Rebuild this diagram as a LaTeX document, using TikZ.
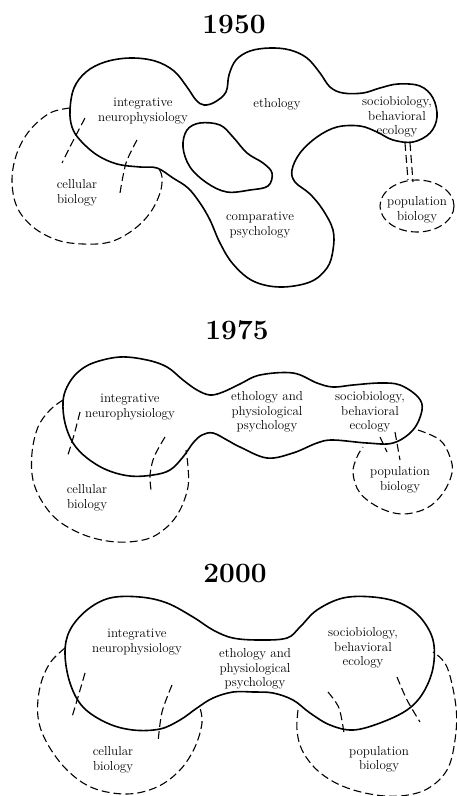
\documentclass[tikz,border=0pt]{standalone}
\begin{document}
\begin{tikzpicture}[x=1pt,y=-1pt,
  blob/.style={line width=1.6pt, line join=round},
  dsh/.style={line width=1.1pt, dash pattern=on 8pt off 4pt},
  lab/.style={font=\fontsize{13}{14.5}\selectfont, align=center, inner sep=0pt},
  ttl/.style={font=\fontsize{28}{30}\selectfont\bfseries, inner sep=0pt}]
\useasboundingbox (0,0) rectangle (456,796);

% ================= 1950 =================
\node[ttl] (t1950) at (234,24) {1950};
\draw[blob] plot[smooth cycle, tension=0.6] coordinates {
(70,110)(74,88)(86,72)(105,62)(130,58)(155,61)(174,71)(187,87)(196,100)(204,105)(215,102)(226,92)(229,75)(236,60)(250,51)(270,48)(290,50)(307,58)(320,73)(330,87)(343,93)(363,93)(380,88)(398,84)(420,86)(433,98)(437,117)(430,133)(413,142)(393,140)(377,132)(360,126)(337,127)(317,137)(300,153)(292,170)(295,182)(310,194)(323,210)(333,230)(333,250)(327,268)(310,282)(280,287)(253,281)(233,264)(220,243)(210,220)(200,203)(188,188)(173,178)(157,168)(140,167)(117,164)(97,155)(80,140)(72,127)};
\draw[blob] plot[smooth cycle, tension=0.6] coordinates {
(187,130)(200,123)(220,125)(233,137)(247,153)(263,163)(272,173)(268,186)(250,190)(227,192)(207,183)(190,167)(183,147)};
% cellular biology
\draw[dsh] plot[smooth, tension=0.6] coordinates {
(70,108)(50,113)(30,130)(17,153)(12,180)(17,207)(33,227)(57,240)(83,244)(110,242)(133,230)(150,213)(160,193)(162,177)(158,167)};
\draw[dsh] plot[smooth] coordinates {(85,118)(73,141)(62,163)};
\draw[dsh] plot[smooth] coordinates {(137,140)(126,163)(120,193)};
% population biology
\draw[dsh] (417,206) ellipse [x radius=37, y radius=26];
\draw[dsh] (405,143) -- (408,180);
\draw[dsh] (410,143) -- (413,182);

\node[lab] (a1) at (143,111) {integrative\\neurophysiology};
\node[lab] (b1) at (277,104) {ethology};
\node[lab] (c1) at (397,117) {sociobiology,\\behavioral\\ecology};
\node[lab] (d1) at (77,193) {cellular\\biology};
\node[lab] (e1) at (260,225) {comparative\\psychology};
\node[lab] (f1) at (417,210) {population\\biology};

% ================= 1975 =================
\node[ttl] (t1975) at (237,330) {1975};
\draw[blob] plot[smooth cycle, tension=0.6] coordinates {
(63,402)(67,387)(77,373)(93,363)(120,357)(147,360)(167,367)(183,380)(197,390)(210,395)(223,392)(240,384)(260,375)(293,373)(317,383)(333,387)(353,385)(380,383)(400,385)(418,397)(422,410)(413,430)(393,443)(367,443)(333,440)(317,443)(293,453)(267,458)(240,447)(227,440)(213,433)(202,435)(193,443)(183,457)(170,470)(153,475)(130,476)(107,470)(87,458)(73,443)(65,423)};
\draw[dsh] plot[smooth, tension=0.6] coordinates {
(63,400)(50,410)(38,427)(32,453)(33,480)(43,503)(60,522)(87,536)(117,542)(147,539)(167,527)(180,510)(188,487)(188,467)(186,450)};
\draw[dsh] plot[smooth] coordinates {(80,412)(74,435)(67,458)};
\draw[dsh] plot[smooth] coordinates {(165,437)(154,457)(150,475)(151,490)};
\draw[dsh] plot[smooth, tension=0.6] coordinates {
(418,430)(440,440)(450,457)(452,473)(443,493)(427,508)(403,514)(380,508)(360,493)(353,473)(357,457)(363,447)};
\draw[dsh] (380,437) -- (387,452);
\draw[dsh] (395,432) -- (400,460);

\node[lab] (a2) at (130,407) {integrative\\neurophysiology};
\node[lab] (b2) at (267,412) {ethology and\\physiological\\psychology};
\node[lab] (c2) at (370,412) {sociobiology,\\behavioral\\ecology};
\node[lab] (d2) at (87,498) {cellular\\biology};
\node[lab] (f2) at (400,480) {population\\biology};

% ================= 2000 =================
\node[ttl] (t2000) at (235,573) {2000};
\draw[blob] plot[smooth cycle, tension=0.6] coordinates {
(65,653)(70,630)(87,610)(110,598)(140,597)(167,603)(193,617)(213,630)(233,638)(260,640)(287,638)(300,627)(317,610)(343,598)(373,597)(400,603)(420,617)(433,640)(433,668)(423,693)(407,710)(380,723)(353,730)(330,725)(310,713)(293,700)(273,693)(253,692)(233,692)(213,698)(197,708)(180,720)(160,729)(133,730)(107,723)(83,707)(70,683)};
\draw[dsh] plot[smooth, tension=0.6] coordinates {
(65,648)(50,663)(40,687)(38,717)(47,743)(67,770)(93,788)(127,794)(157,787)(180,770)(195,747)(202,723)(200,708)};
\draw[dsh] plot[smooth] coordinates {(85,673)(78,697)(72,717)};
\draw[dsh] plot[smooth] coordinates {(172,685)(162,712)(158,742)};
\draw[dsh] plot[smooth, tension=0.6] coordinates {
(298,710)(297,730)(302,750)(317,770)(340,785)(370,794)(400,796)(427,789)(447,770)(455,740)(456,707)(447,667)(433,652)};
\draw[dsh] plot[smooth] coordinates {(328,692)(339,708)(344,733)};
\draw[dsh] plot[smooth] coordinates {(397,677)(407,700)(420,722)};

\node[lab] (a3) at (137,642) {integrative\\neurophysiology};
\node[lab] (b3) at (255,669) {ethology and\\physiological\\psychology};
\node[lab] (c3) at (363,648) {sociobiology,\\behavioral\\ecology};
\node[lab] (d3) at (113,760) {cellular\\biology};
\node[lab] (f3) at (379,759.5) {population\\biology};
\end{tikzpicture}
\end{document}
